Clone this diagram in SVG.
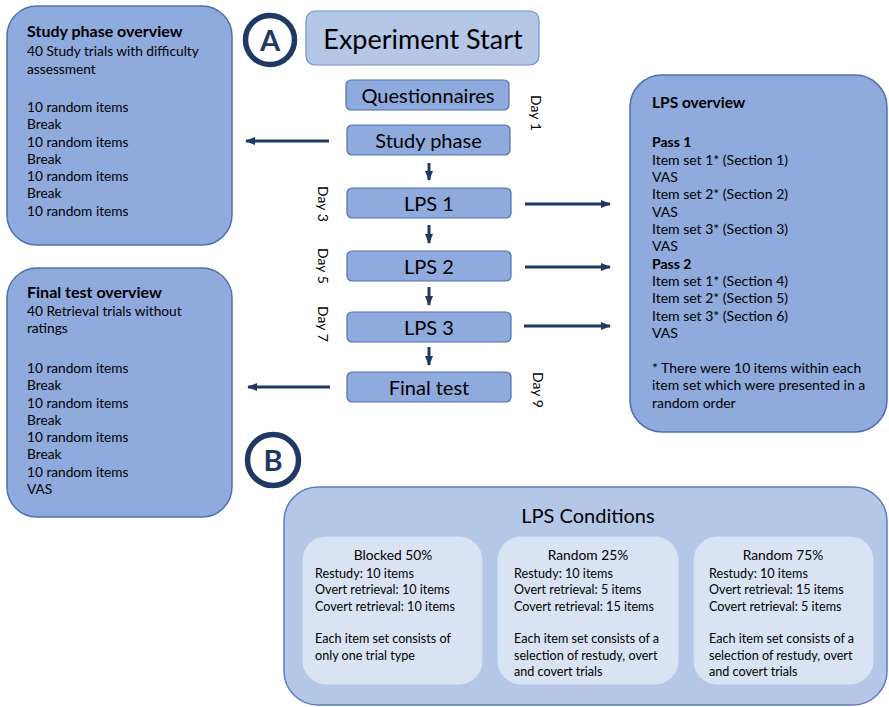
<svg xmlns="http://www.w3.org/2000/svg" width="889" height="707" viewBox="0 0 889 707">
<defs>
<marker id="ah" markerWidth="10" markerHeight="8" refX="9" refY="4" orient="auto" markerUnits="userSpaceOnUse">
<path d="M0,0 L10,4 L0,8 Z" fill="#203864"/>
</marker>
<style>
text{font-family:Lato,"Liberation Sans",sans-serif;fill:#000}
.ov{fill:#8FAADC;stroke:#4F6FB0;stroke-width:1.5}
.st{fill:#8FAADC;stroke:#4F6FB0;stroke-width:1.2}
.t14{font-size:13.7px}
.b{font-weight:bold}
.s20{font-size:20px;text-anchor:middle}
.day{font-size:14px;text-anchor:middle}
.conn line{stroke:#203864;stroke-width:3}
.circ{fill:#fff;stroke:#203864;stroke-width:5.5}
.lt{font-size:29px;font-weight:bold;fill:#203864;text-anchor:middle}
.cb{fill:#DAE3F3;stroke:#B4C7E7;stroke-width:1.2}
.c13{font-size:12.6px}
.ch{font-size:13.8px;text-anchor:middle}
</style>
</defs>
<rect width="889" height="707" fill="#fff"/>

<g id="study-overview">
<rect class="ov" x="7" y="6" width="225" height="239" rx="30"/>
<text class="t14">
<tspan class="b" x="27" y="37" style="font-size:16px">Study phase overview</tspan>
<tspan x="27" y="56">40 Study trials with difficulty</tspan>
<tspan x="27" y="73.5">assessment</tspan>
<tspan x="27" y="112">10 random items</tspan>
<tspan x="27" y="129">Break</tspan>
<tspan x="27" y="146.5">10 random items</tspan>
<tspan x="27" y="163.5">Break</tspan>
<tspan x="27" y="181">10 random items</tspan>
<tspan x="27" y="198">Break</tspan>
<tspan x="27" y="215.5">10 random items</tspan>
</text>
</g>

<g id="final-overview">
<rect class="ov" x="7" y="268" width="225" height="249" rx="30"/>
<text class="t14">
<tspan class="b" x="27" y="298" style="font-size:16px">Final test overview</tspan>
<tspan x="27" y="315.5">40 Retrieval trials without</tspan>
<tspan x="27" y="333">ratings</tspan>
<tspan x="27" y="373">10 random items</tspan>
<tspan x="27" y="390">Break</tspan>
<tspan x="27" y="407.5">10 random items</tspan>
<tspan x="27" y="424.5">Break</tspan>
<tspan x="27" y="442">10 random items</tspan>
<tspan x="27" y="459">Break</tspan>
<tspan x="27" y="476.5">10 random items</tspan>
<tspan x="27" y="494">VAS</tspan>
</text>
</g>

<g id="lps-overview">
<rect class="ov" x="630" y="75" width="257" height="357" rx="32"/>
<text class="t14" style="font-size:14px">
<tspan class="b" x="652" y="107.5" style="font-size:15.5px">LPS overview</tspan>
<tspan class="b" x="652" y="147">Pass 1</tspan>
<tspan x="652" y="164.5">Item set 1* (Section 1)</tspan>
<tspan x="652" y="182">VAS</tspan>
<tspan x="652" y="199">Item set 2* (Section 2)</tspan>
<tspan x="652" y="216.5">VAS</tspan>
<tspan x="652" y="234">Item set 3* (Section 3)</tspan>
<tspan x="652" y="251">VAS</tspan>
<tspan class="b" x="652" y="268.5">Pass 2</tspan>
<tspan x="652" y="286">Item set 1* (Section 4)</tspan>
<tspan x="652" y="303">Item set 2* (Section 5)</tspan>
<tspan x="652" y="320.5">Item set 3* (Section 6)</tspan>
<tspan x="652" y="338">VAS</tspan>
<tspan x="652" y="373">* There were 10 items within each</tspan>
<tspan x="652" y="390">item set which were presented in a</tspan>
<tspan x="652" y="407.5">random order</tspan>
</text>
</g>

<g id="label-a">
<circle class="circ" cx="270" cy="40" r="24.5"/>
<text class="lt" x="270" y="50.5">A</text>
</g>
<g id="label-b">
<circle class="circ" cx="273" cy="460" r="25.5"/>
<text class="lt" x="273" y="470.5">B</text>
</g>

<g id="experiment-start">
<rect x="306" y="11" width="233" height="54" rx="9" fill="#B4C7E7" stroke="#6F8FCB" stroke-width="1.2"/>
<text x="423" y="48.5" style="font-size:27px;text-anchor:middle">Experiment Start</text>
</g>
<g id="questionnaires">
<rect class="st" x="346" y="80" width="163" height="30" rx="5"/>
<text class="s20" x="428" y="103">Questionnaires</text>
</g>
<g id="study-phase">
<rect class="st" x="347" y="125" width="163" height="30" rx="5"/>
<text class="s20" x="428.5" y="148">Study phase</text>
</g>
<g id="lps1">
<rect class="st" x="347" y="188" width="164" height="30" rx="5"/>
<text class="s20" x="429" y="211">LPS 1</text>
</g>
<g id="lps2">
<rect class="st" x="347" y="251" width="164" height="30" rx="5"/>
<text class="s20" x="429" y="274">LPS 2</text>
</g>
<g id="lps3">
<rect class="st" x="347" y="312" width="164" height="30" rx="5"/>
<text class="s20" x="429" y="335">LPS 3</text>
</g>
<g id="final-test">
<rect class="st" x="347" y="372" width="164" height="30" rx="5"/>
<text class="s20" x="429" y="395">Final test</text>
</g>

<g id="day-labels">
<text class="day" transform="translate(531,113) rotate(90)">Day 1</text>
<text class="day" transform="translate(318,204) rotate(90)">Day 3</text>
<text class="day" transform="translate(318,266) rotate(90)">Day 5</text>
<text class="day" transform="translate(318,324) rotate(90)">Day 7</text>
<text class="day" transform="translate(533,390) rotate(90)">Day 9</text>
</g>

<g id="connectors" class="conn">
<line x1="329" y1="141" x2="246" y2="141" marker-end="url(#ah)"/>
<line x1="330" y1="387" x2="248" y2="387" marker-end="url(#ah)"/>
<line x1="525" y1="204" x2="610" y2="204" marker-end="url(#ah)"/>
<line x1="525" y1="267" x2="610" y2="267" marker-end="url(#ah)"/>
<line x1="524" y1="326" x2="610" y2="326" marker-end="url(#ah)"/>
<line x1="429" y1="163" x2="429" y2="180" marker-end="url(#ah)"/>
<line x1="429" y1="225" x2="429" y2="243" marker-end="url(#ah)"/>
<line x1="429" y1="287" x2="429" y2="305" marker-end="url(#ah)"/>
<line x1="429" y1="347" x2="429" y2="365" marker-end="url(#ah)"/>
</g>

<g id="lps-conditions">
<rect x="284" y="487" width="603" height="218" rx="34" fill="#B4C7E7" stroke="#5B7CC4" stroke-width="1.5"/>
<text x="588" y="523" style="font-size:20px;text-anchor:middle">LPS Conditions</text>
</g>
<g id="blocked-50">
<rect class="cb" x="302" y="536" width="181" height="149" rx="24"/>
<text class="ch" x="393" y="560">Blocked 50%</text>
<text class="c13">
<tspan x="315" y="578">Restudy: 10 items</tspan>
<tspan x="315" y="594">Overt retrieval: 10 items</tspan>
<tspan x="315" y="610.5">Covert retrieval: 10 items</tspan>
<tspan x="315" y="643">Each item set consists of</tspan>
<tspan x="315" y="659.5">only one trial type</tspan>
</text>
</g>
<g id="random-25">
<rect class="cb" x="497" y="536" width="182" height="149" rx="24"/>
<text class="ch" x="588" y="560">Random 25%</text>
<text class="c13">
<tspan x="514" y="578">Restudy: 10 items</tspan>
<tspan x="514" y="594">Overt retrieval: 5 items</tspan>
<tspan x="514" y="610.5">Covert retrieval: 15 items</tspan>
<tspan x="514" y="643">Each item set consists of a</tspan>
<tspan x="514" y="659.5">selection of restudy, overt</tspan>
<tspan x="514" y="676">and covert trials</tspan>
</text>
</g>
<g id="random-75">
<rect class="cb" x="693" y="536" width="181" height="149" rx="24"/>
<text class="ch" x="783" y="560">Random 75%</text>
<text class="c13">
<tspan x="709" y="578">Restudy: 10 items</tspan>
<tspan x="709" y="594">Overt retrieval: 15 items</tspan>
<tspan x="709" y="610.5">Covert retrieval: 5 items</tspan>
<tspan x="709" y="643">Each item set consists of a</tspan>
<tspan x="709" y="659.5">selection of restudy, overt</tspan>
<tspan x="709" y="676">and covert trials</tspan>
</text>
</g>
</svg>
